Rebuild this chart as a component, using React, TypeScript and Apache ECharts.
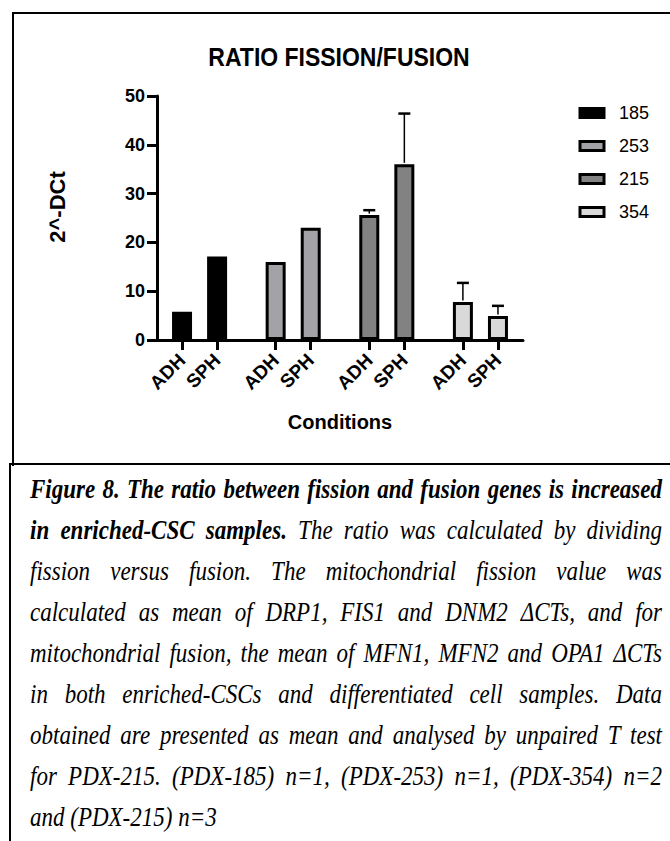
import React, { useEffect, useRef } from "react";
import * as echarts from "echarts";

// ---- data ----
const groups = ["185", "253", "215", "354"];
const conditions = ["ADH", "SPH"];
const meanValues = [
  [5.8, 17.1],
  [16.0, 23.0],
  [25.6, 36.0],
  [7.8, 4.9],
];
const errorValues = [
  [0, 0],
  [0, 0],
  [1.0, 10.4],
  [3.9, 2.1],
];
const yTicks = [0, 10, 20, 30, 40, 50];
const fillColors = ["#000000", "#a3a3a7", "#828282", "#d9d9d9"];

const captionLines: { t: string; b: boolean }[][] = [
  [{ t: "Figure 8. The ratio between fission and fusion genes is increased", b: true }],
  [
    { t: "in enriched-CSC samples.", b: true },
    { t: " The ratio was calculated by dividing", b: false },
  ],
  [{ t: "fission versus fusion. The mitochondrial fission value was", b: false }],
  [{ t: "calculated as mean of DRP1, FIS1 and DNM2 \u0394CTs, and for", b: false }],
  [{ t: "mitochondrial fusion, the mean of MFN1, MFN2 and OPA1 \u0394CTs", b: false }],
  [{ t: "in both enriched-CSCs and differentiated cell samples. Data", b: false }],
  [{ t: "obtained are presented as mean and analysed by unpaired T test", b: false }],
  [{ t: "for PDX-215. (PDX-185) n=1, (PDX-253) n=1, (PDX-354) n=2", b: false }],
  [{ t: "and (PDX-215) n=3", b: false }],
];

// ---- layout constants ----
const GROUP_STEP = 2.67;
const EDGE_PAD = 0.714;
const SANS = "'Liberation Sans', Arial, sans-serif";
const SERIF = "'Liberation Serif', 'Times New Roman', serif";

const posOf = (g: number, j: number) => g * GROUP_STEP + j;
const tickPositions: number[] = [];
const tickLabels: string[] = [];
groups.forEach((_, gi) =>
  conditions.forEach((c, j) => {
    tickPositions.push(posOf(gi, j));
    tickLabels.push(c);
  })
);

function Chart() {
  const ref = useRef<HTMLDivElement>(null);
  useEffect(() => {
    if (!ref.current) return;
    const chart = echarts.init(ref.current, undefined, { renderer: "svg" });

    const barSeries = groups.map((g, gi) => ({
      name: g,
      type: "bar",
      barWidth: 20,
      barGap: "-100%",
      itemStyle: { color: fillColors[gi], borderColor: "#000", borderWidth: 3 },
      data: meanValues[gi].map((v, j) => [posOf(gi, j), v]),
      z: 2,
    }));

    const errData: number[][] = [];
    groups.forEach((_, gi) =>
      conditions.forEach((__, j) => {
        if (errorValues[gi][j] > 0) errData.push([posOf(gi, j), meanValues[gi][j], errorValues[gi][j]]);
      })
    );

    const option: any = {
      animation: false,
      grid: { left: 157, right: 147, top: 96, bottom: 123 },
      graphic: [
        {
          type: "text",
          x: 339,
          y: 57,
          scaleY: 1.1,
          style: {
            text: "RATIO FISSION/FUSION",
            font: `bold 23px ${SANS}`,
            fill: "#000",
            align: "center",
            verticalAlign: "middle",
          },
        },
        {
          type: "text",
          x: 57,
          y: 207,
          rotation: Math.PI / 2,
          style: {
            text: "2^-DCt",
            font: `bold 22px ${SANS}`,
            fill: "#000",
            align: "center",
            verticalAlign: "middle",
          },
        },
      ],
      legend: {
        data: groups,
        orient: "vertical",
        left: 573.5,
        top: 99,
        itemWidth: 24,
        itemHeight: 9,
        itemGap: 15,
        icon: "rect",
        itemStyle: { borderColor: "#000", borderWidth: 3 },
        textStyle: { fontSize: 18, color: "#000", fontFamily: SANS, padding: [0, 0, 0, 10] },
      },
      xAxis: {
        type: "value",
        min: -EDGE_PAD,
        max: posOf(groups.length - 1, 1) + EDGE_PAD,
        splitLine: { show: false },
        axisLine: { show: true, onZero: false, lineStyle: { color: "#000", width: 3 } },
        axisTick: {
          show: true,
          customValues: tickPositions,
          length: 10,
          lineStyle: { color: "#000", width: 3 },
        },
        axisLabel: {
          customValues: tickPositions,
          rotate: 45,
          margin: 17,
          color: "#000",
          fontSize: 19,
          fontWeight: "bold",
          fontFamily: SANS,
          formatter: (v: number) => {
            const i = tickPositions.findIndex((p) => Math.abs(p - v) < 0.01);
            return i >= 0 ? tickLabels[i] : "";
          },
        },
        name: "Conditions",
        nameLocation: "middle",
        nameGap: 72,
        nameTextStyle: { fontSize: 20, fontWeight: "bold", color: "#000", fontFamily: SANS },
      },
      yAxis: {
        type: "value",
        min: yTicks[0],
        max: yTicks[yTicks.length - 1],
        interval: yTicks[1] - yTicks[0],
        splitLine: { show: false },
        axisLine: { show: true, onZero: false, lineStyle: { color: "#000", width: 3 } },
        axisTick: { show: true, length: 10, lineStyle: { color: "#000", width: 3 } },
        axisLabel: {
          color: "#000",
          fontSize: 18,
          fontWeight: "bold",
          fontFamily: SANS,
          margin: 12,
        },
      },
      series: [
        ...barSeries,
        {
          type: "custom",
          name: "err",
          z: 3,
          data: errData,
          encode: { x: 0, y: 1 },
          renderItem: (_p: any, api: any) => {
            const x = api.value(0);
            const y = api.value(1);
            const e = api.value(2);
            const base = api.coord([x, y]);
            const top = api.coord([x, y + e]);
            return {
              type: "group",
              children: [
                {
                  type: "line",
                  shape: { x1: base[0], y1: base[1] - 1.5, x2: top[0], y2: top[1] },
                  style: { stroke: "#000", lineWidth: 1.5 },
                },
                {
                  type: "line",
                  shape: { x1: top[0] - 6, y1: top[1], x2: top[0] + 6, y2: top[1] },
                  style: { stroke: "#000", lineWidth: 2.5 },
                },
              ],
            };
          },
        },
      ],
    };
    chart.setOption(option);
    return () => chart.dispose();
  }, []);
  return <div ref={ref} style={{ position: "absolute", left: 0, top: 0, width: 670, height: 463 }} />;
}

export default function App() {
  useEffect(() => {
    document.body.style.margin = "0";
  }, []);
  const PITCH = 41;
  return (
    <div style={{ position: "relative", width: 670, height: 841, overflow: "hidden", background: "#fff" }}>
      <div
        style={{
          position: "absolute",
          left: 12,
          top: 12,
          width: 700,
          height: 452,
          borderLeft: "2px solid #000",
          borderTop: "2px solid #000",
        }}
      />
      <Chart />
      <div
        style={{
          position: "absolute",
          left: 9,
          top: 463,
          width: 700,
          height: 400,
          borderLeft: "2px solid #000",
          borderTop: "2px solid #000",
        }}
      />
      <div
        style={{
          position: "absolute",
          left: 30,
          top: 469,
          width: 632,
          fontFamily: SERIF,
          fontStyle: "italic",
          fontSize: 23,
          color: "#000",
        }}
      >
        {captionLines.map((line, li) => (
          <div
            key={li}
            style={{
              height: PITCH,
              lineHeight: `${PITCH}px`,
              whiteSpace: "nowrap",
              textAlign: "justify",
              textAlignLast: li === captionLines.length - 1 ? "left" : "justify",
              transform: "scaleY(1.15)",
            }}
          >
            {line.map((seg, si) => (
              <span key={si} style={{ fontWeight: seg.b ? "bold" : "normal" }}>
                {seg.t}
              </span>
            ))}
          </div>
        ))}
      </div>
    </div>
  );
}
